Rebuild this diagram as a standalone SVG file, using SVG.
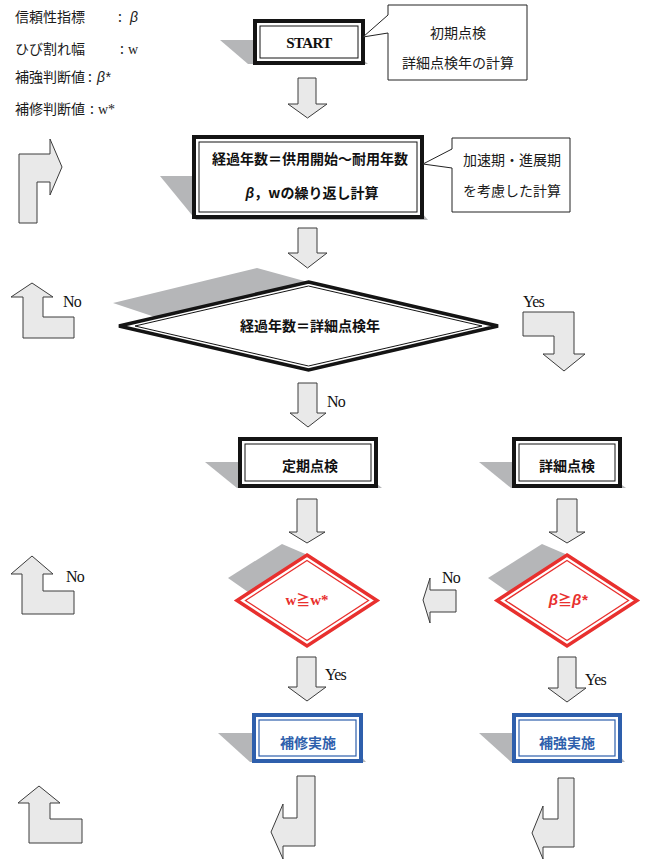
<svg xmlns="http://www.w3.org/2000/svg" width="645" height="861" viewBox="0 0 645 861">
<defs>
<style>
.bg{fill:#ffffff}
.shadow{fill:#b5b6b8}
.arrow{fill:#e9e9e9;stroke:#3c3c3c;stroke-width:1;stroke-linejoin:miter}
.bo{fill:#ffffff;stroke:#141414;stroke-width:4}
.bi{fill:none;stroke:#141414;stroke-width:1}
.ro{fill:#ffffff;stroke:#e8302e;stroke-width:3.5;stroke-linejoin:miter}
.ri{fill:none;stroke:#e8302e;stroke-width:1.3;stroke-linejoin:miter}
.uo{fill:#ffffff;stroke:#2e5fac;stroke-width:4}
.ui{fill:none;stroke:#2e5fac;stroke-width:1.2}
.call{fill:#ffffff;stroke:#222;stroke-width:1}
.jp{font-family:"Noto Sans CJK JP","Noto Sans",sans-serif;font-size:14px;fill:#1a1a1a}
.jpb{font-family:"Noto Sans CJK JP","Noto Sans",sans-serif;font-size:14px;font-weight:bold;fill:#111}
.lab{font-family:"Liberation Serif","Times New Roman",serif;font-size:16px;fill:#111;letter-spacing:-0.8px}
.beta{font-family:"Liberation Sans",Arial,sans-serif;font-style:italic}
.ser{font-family:"Liberation Serif","Times New Roman",serif}
</style>
</defs>
<rect class="bg" x="0" y="0" width="645" height="861"/>

<g id="legend">
<text class="jp" x="15" y="22">信頼性指標</text><text class="jp" x="118" y="22">:</text><text class="jp beta" x="130" y="22">β</text>
<text class="jp" x="15" y="54">ひび割れ幅</text><text class="jp" x="120" y="54">:</text><text class="jp ser" x="128" y="54">w</text>
<text class="jp" x="15" y="82">補強判断値</text><text class="jp" x="88" y="82">:</text><text class="jp beta" x="97" y="82">β*</text>
<text class="jp" x="15" y="114">補修判断値</text><text class="jp" x="90" y="114">:</text><text class="jp ser" x="98" y="114">w*</text>
</g>

<g id="connectors">
<polygon class="arrow" points="298,78 316,78 316,104 327,104 307.5,118 288,104 298,104"/>
<polygon class="arrow" points="298,228 317,228 317,253 327,253 307.5,268 288,253 298,253"/>
<polygon class="arrow" points="298,383 317,383 317,413 326,413 308,427 290,413 298,413"/>
<polygon class="arrow" points="297,499 317,499 317,532 325,532 307,543 289,532 297,532"/>
<polygon class="arrow" points="557,499 577,499 577,532 585,532 567,543 549,532 557,532"/>
<polygon class="arrow" points="297,657 316,657 316,687 326,687 307,701 288,687 297,687"/>
<polygon class="arrow" points="558,657 576,657 576,688 586,688 567,702 548,688 558,688"/>
<polygon class="arrow" points="523,312 574,312 574,354 585,354 564,371 543,354 554,354 554,336 523,336"/>
<polygon class="arrow" points="456,590 456,612 430,612 430,623 423,600 430,578 430,590"/>
<polygon class="arrow" points="19,223 19,154 50,154 50,139 62,167 50,195 50,182 37,182 37,223"/>
<polygon class="arrow" points="32,283 53,297 43,297 43,317 74,317 74,338 23,338 23,297 11,297"/>
<polygon class="arrow" points="32,556 53,574 43,574 43,591 74,591 74,614 22,614 22,574 11,574"/>
<polygon class="arrow" points="39,786 60,803 50,803 50,819 82,819 82,843 29,843 29,803 18,803"/>
<polygon class="arrow" points="297,776 315,776 315,846 283,846 283,859 271,832 283,804 283,818 297,818"/>
<polygon class="arrow" points="558,778 574,778 574,847 543,847 543,859 532,833 543,806 543,819 558,819"/>
<text class="lab" x="63" y="307">No</text>
<text class="lab" x="523" y="307">Yes</text>
<text class="lab" x="327" y="407">No</text>
<text class="lab" x="66" y="582">No</text>
<text class="lab" x="442" y="583">No</text>
<text class="lab" x="325" y="680">Yes</text>
<text class="lab" x="585" y="685">Yes</text>
</g>

<g id="start">
<polygon class="shadow" points="220,40 340,40 368,64 248,64"/>
<rect class="bo" x="255" y="21" width="108" height="42"/>
<rect class="bi" x="260" y="26" width="98" height="32"/>
<text x="309" y="48" text-anchor="middle" font-family="Liberation Serif, serif" font-weight="bold" font-size="15" letter-spacing="-0.6" fill="#111">START</text>
</g>

<g id="callout-start">
<path class="call" d="M388,5 H527 V80 H388 V33 L363,37 L388,15 Z"/>
<text class="jp" x="458" y="38" text-anchor="middle">初期点検</text>
<text class="jp" x="458" y="68" text-anchor="middle">詳細点検年の計算</text>
</g>

<g id="loop-calc">
<polygon class="shadow" points="160,176 390,176 428,220 196,220"/>
<rect class="bo" x="194" y="137" width="228" height="80"/>
<rect class="bi" x="199" y="142" width="218" height="70"/>
<text class="jpb" x="310" y="164" text-anchor="middle">経過年数＝供用開始～耐用年数</text>
<text class="jpb" x="312" y="198" text-anchor="middle"><tspan class="beta">β</tspan>，wの繰り返し計算</text>
</g>

<g id="callout-loop">
<path class="call" d="M452,138 H570 V212 H452 V168 L423,164 L452,149 Z"/>
<text class="jp" x="512" y="165" text-anchor="middle">加速期・進展期</text>
<text class="jp" x="512" y="196" text-anchor="middle">を考慮した計算</text>
</g>

<g id="decision-year">
<polygon class="shadow" points="113,303 257,268 308,282 155,317"/>
<polygon class="bo" points="308.5,282 498,326 308.5,370 119,326" style="stroke-width:3.5"/>
<polygon class="bi" points="308.5,286 482,326 308.5,366 135,326"/>
<text class="jpb" x="310" y="331" text-anchor="middle">経過年数＝詳細点検年</text>
</g>

<g id="periodic">
<polygon class="shadow" points="205,462 350,462 382,488 237,488"/>
<rect class="bo" x="240" y="439" width="136" height="47"/>
<rect class="bi" x="245" y="444" width="126" height="37"/>
<text class="jpb" x="310" y="471" text-anchor="middle" font-size="15">定期点検</text>
</g>

<g id="detailed">
<polygon class="shadow" points="479,462 590,462 626,488 511,488"/>
<rect class="bo" x="514" y="439" width="106" height="47"/>
<rect class="bi" x="519" y="444" width="96" height="37"/>
<text class="jpb" x="567" y="471" text-anchor="middle" font-size="15">詳細点検</text>
</g>

<g id="check-w">
<polygon class="shadow" points="228,578 282,544 310,556 248,592"/>
<polygon class="ro" points="307,555 377,600.5 307,646 237,600.5"/>
<polygon class="ri" points="307,560.5 368.5,600.5 307,640.5 245.5,600.5"/>
<text x="307" y="605" text-anchor="middle" font-family="Liberation Serif, serif" font-weight="bold" font-size="15" fill="#e8302e">w<tspan font-family="Noto Sans CJK JP, sans-serif" font-size="14">≧</tspan>w*</text>
</g>

<g id="check-beta">
<polygon class="shadow" points="488,578 542,544 570,556 508,592"/>
<polygon class="ro" points="567,555 637,600.5 567,646 497,600.5"/>
<polygon class="ri" points="567,560.5 628.5,600.5 567,640.5 505.5,600.5"/>
<text x="568" y="605" text-anchor="middle" font-family="Liberation Sans, Arial, sans-serif" font-style="italic" font-weight="bold" font-size="15" fill="#e8302e">β<tspan font-family="Noto Sans CJK JP, sans-serif" font-style="normal" font-size="14">≧</tspan>β*</text>
</g>

<g id="repair">
<polygon class="shadow" points="218,733 340,733 366,762 250,762"/>
<rect class="uo" x="254" y="715" width="107" height="46"/>
<rect class="ui" x="259" y="720" width="97" height="36"/>
<text class="jpb" x="308" y="748" text-anchor="middle" font-size="15" style="fill:#2e5fac">補修実施</text>
</g>

<g id="reinforce">
<polygon class="shadow" points="479,733 600,733 625,762 511,762"/>
<rect class="uo" x="514" y="715" width="106" height="46"/>
<rect class="ui" x="519" y="720" width="96" height="36"/>
<text class="jpb" x="567" y="748" text-anchor="middle" font-size="15" style="fill:#2e5fac">補強実施</text>
</g>
</svg>
